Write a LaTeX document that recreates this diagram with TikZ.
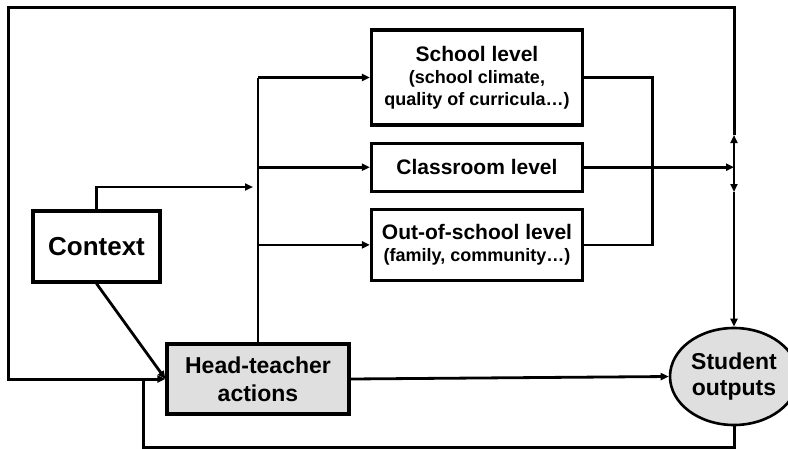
\documentclass[tikz,border=0pt]{standalone}
\usepackage{fontspec}
\setmainfont{Liberation Sans}
\usetikzlibrary{positioning, arrows.meta, shapes.geometric}
\newcommand\subtext{\fontsize{18}{22}\selectfont}
\tikzset{
    boxed/.style={draw, rectangle, line width=3.2pt, fill=white, align=center, inner sep=2pt, anchor=center},
    level/.style={boxed, minimum width=211pt, font=\bfseries\fontsize{21}{22}\selectfont},
    actor/.style={fill=gray!25},
    outcome/.style={draw, ellipse, line width=2.6pt, fill=gray!25, align=center, inner sep=0pt},
    flow/.style={-{Triangle[length=8pt,width=7pt]}},
    loop/.style={line width=3pt} }

\begin{document}
\begin{tikzpicture}[x=1pt, y=-1pt, line width=2.8pt, node distance=15pt]
    \useasboundingbox (0,0) rectangle (788,448);
    \node[boxed, minimum width=127pt, minimum height=71pt, font=\bfseries\fontsize{26}{30}\selectfont] (context) at (96.5,246.5) {Context};
    \node[boxed, actor, minimum width=182pt, minimum height=70pt, font=\bfseries\fontsize{23}{28}\selectfont] (head) at (258,379) {Head-teacher\\actions};
    \node[level, minimum height=95pt] (school) at (477,77.5) {School level\\\subtext (school climate,\\\subtext quality of curricula…)};
    \node[level, minimum height=48pt, below=of school] (classroom) {Classroom level};
    \node[level, minimum height=71pt, below=of classroom] (outschool) {Out-of-school level\\\subtext (family, community…)};
    \node[outcome, minimum width=128pt, minimum height=97pt, font=\bfseries\fontsize{23}{26}\selectfont] (student) at (734,376.5) {Student\\outputs};
    % ---- helper points
    \coordinate (feed) at (253,187);
    \coordinate (bus) at (head.north |- school.west);
    \coordinate (junction) at (student.north |- classroom.east);
    \coordinate (upper) at (734,135);
    \coordinate (lower) at (734,192);
    \coordinate (topright) at (734,7);
    \coordinate (topleft) at (8,7);
    \coordinate (rejoin) at (143,379);
    % ---- context and head-teacher feed the three levels
    \draw[flow] (context.north) |- (feed);
    \draw (head.north) -- (bus);
    \draw[flow] (bus) -- (school.west);
    \draw[flow] (bus |- classroom.west) -- (classroom.west);
    \draw[flow] (bus |- outschool.west) -- (outschool.west);
    \draw[flow] (context.south) -- (head.west);
    % ---- levels towards outputs
    \draw (school.east) -- ++(68,0) |- (outschool.east);
    \draw[flow] (classroom.east) -- (junction);
    \draw[flow] (junction) -- (lower);
    \draw[flow] (lower) -- (student.north);
    \draw[flow] (head.east) -- (student.west);
    % ---- feedback loops
    \draw[flow] (junction) -- (upper);
    \draw[loop, flow] (upper) -- (topright) -- (topleft) |- (head.west);
    \draw[loop] (student.south) -- ++(0,21) -| (rejoin);
\end{tikzpicture}
\end{document}
